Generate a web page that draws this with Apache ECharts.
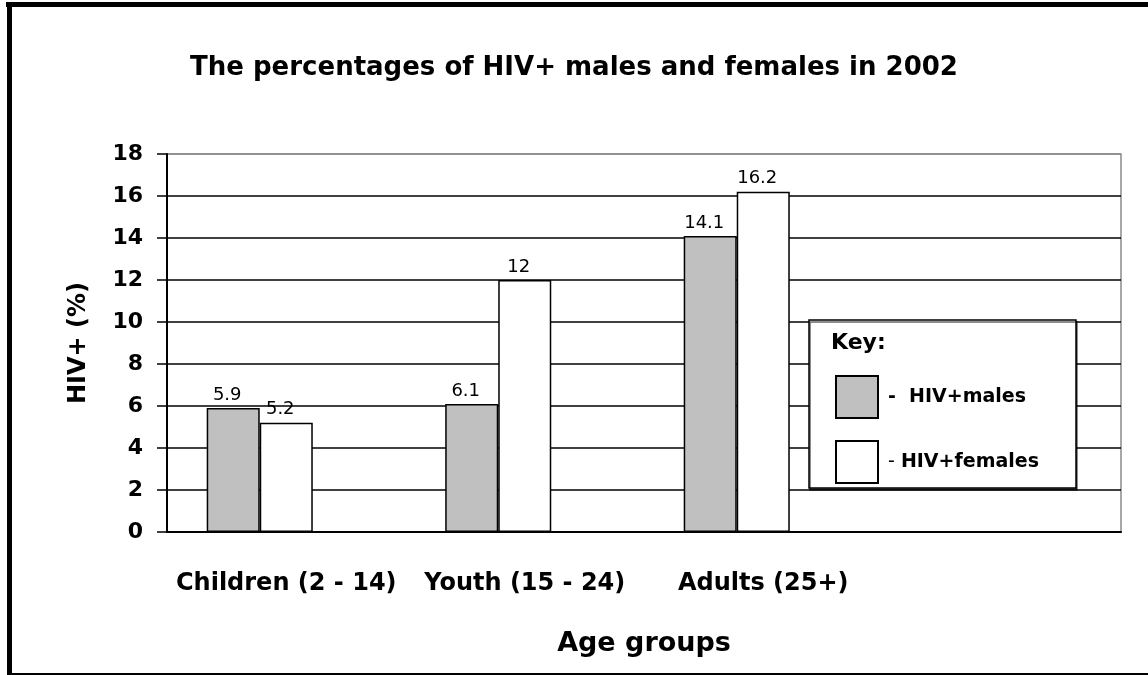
<!DOCTYPE html>
<html>
<head>
<meta charset="utf-8">
<script src="https://cdn.jsdelivr.net/npm/echarts@6/dist/echarts.min.js"></script>
<style>
html,body{margin:0;padding:0;background:#fff;}
#chart{width:1148px;height:675px;}
</style>
</head>
<body>
<div id="chart"></div>
<script>
const categories = ['Children (2 - 14)', 'Youth (15 - 24)', 'Adults (25+)', ''];
const males = [5.9, 6.1, 14.1, null];
const females = [5.2, 12, 16.2, null];
const spacer = [null, null, null, null];
const yTicks = [0, 2, 4, 6, 8, 10, 12, 14, 16, 18];

const FONT = 'DejaVu Sans';
const chart = echarts.init(document.getElementById('chart'));
const splitColors = yTicks.map((v, i) => i === yTicks.length - 1 ? '#8a8a8a' : '#000');

chart.setOption({
  animation: false,
  backgroundColor: '#fff',
  title: {
    text: 'The percentages of HIV+ males and females in 2002',
    left: 'center',
    top: 50,
    textStyle: { fontFamily: FONT, fontWeight: 'bold', fontSize: 26, color: '#000' }
  },
  grid: {
    left: 167, right: 27, top: 154, bottom: 143,
    show: true, borderColor: '#8a8a8a', borderWidth: 1.5, backgroundColor: 'transparent'
  },
  xAxis: {
    type: 'category',
    data: categories,
    name: 'Age groups',
    nameLocation: 'middle',
    nameGap: 98,
    nameTextStyle: { fontFamily: FONT, fontWeight: 'bold', fontSize: 27, color: '#000' },
    axisLine: { lineStyle: { color: '#000', width: 2 } },
    axisTick: { show: false },
    axisLabel: { fontFamily: FONT, fontWeight: 'bold', fontSize: 24, color: '#000', margin: 40, interval: 0 }
  },
  yAxis: {
    type: 'value',
    min: 0, max: 18, interval: 2,
    name: 'HIV+ (%)',
    nameLocation: 'middle',
    nameGap: 76,
    nameRotate: 90,
    nameTextStyle: { fontFamily: FONT, fontWeight: 'bold', fontSize: 24, color: '#000' },
    axisLine: { show: true, lineStyle: { color: '#000', width: 2 } },
    axisTick: { show: true, length: 10, lineStyle: { color: '#000', width: 1.5 } },
    axisLabel: { fontFamily: FONT, fontWeight: 'bold', fontSize: 22, color: '#000', margin: 24 },
    splitLine: { show: true, lineStyle: { color: splitColors, width: 1.5 } }
  },
  legend: {
    data: ['HIV+males', 'HIV+females'],
    orient: 'vertical',
    left: 835, top: 375,
    padding: 0,
    itemWidth: 42, itemHeight: 42, itemGap: 21,
    icon: 'rect',
    selectedMode: false,
    formatter: function (name) {
      return name === 'HIV+males' ? '{b|-  HIV+males}' : '{n|- }{b|HIV+females}';
    },
    textStyle: {
      padding: [0, 0, 0, 5],
      rich: {
        b: { fontFamily: FONT, fontWeight: 'bold', fontSize: 19, color: '#000' },
        n: { fontFamily: FONT, fontWeight: 'normal', fontSize: 19, color: '#000' }
      }
    },
    z: 10
  },
  graphic: [
    { type: 'rect', z: 5, shape: { x: 809, y: 320, width: 267, height: 168 },
      style: { fill: '#fff', stroke: '#000', lineWidth: 1.5, shadowColor: 'rgba(0,0,0,0.6)', shadowOffsetX: 1, shadowOffsetY: 2, shadowBlur: 0 } },
    { type: 'text', z: 6, left: 831, top: 332,
      style: { text: 'Key:', fontFamily: FONT, fontWeight: 'bold', fontSize: 22, fill: '#000' } },
    { type: 'line', z: 20, shape: { x1: 6, y1: 4.5, x2: 1148, y2: 4.5 }, style: { stroke: '#000', lineWidth: 5 } },
    { type: 'line', z: 20, shape: { x1: 9.5, y1: 2, x2: 9.5, y2: 675 }, style: { stroke: '#000', lineWidth: 5 } },
    { type: 'line', z: 20, shape: { x1: 7, y1: 674, x2: 1148, y2: 674 }, style: { stroke: '#000', lineWidth: 2 } }
  ],
  series: [
    {
      name: 'HIV+males', type: 'bar', data: males,
      barGap: '0%', barCategoryGap: '33.3%',
      itemStyle: { color: '#c0c0c0', borderColor: '#000', borderWidth: 1.5 },
      label: { show: true, position: 'top', distance: 4, offset: [-6, 0],
        fontFamily: FONT, fontSize: 18, color: '#000' }
    },
    {
      name: 'HIV+females', type: 'bar', data: females,
      barGap: '0%', barCategoryGap: '33.3%',
      itemStyle: { color: '#fff', borderColor: '#000', borderWidth: 1.5 },
      label: { show: true, position: 'top', distance: 4, offset: [-6, 0],
        fontFamily: FONT, fontSize: 18, color: '#000' }
    },
    {
      name: 'spacer', type: 'bar', data: spacer,
      barGap: '0%', barCategoryGap: '33.3%',
      itemStyle: { color: 'transparent' }, silent: true
    }
  ]
});
</script>
</body>
</html>
